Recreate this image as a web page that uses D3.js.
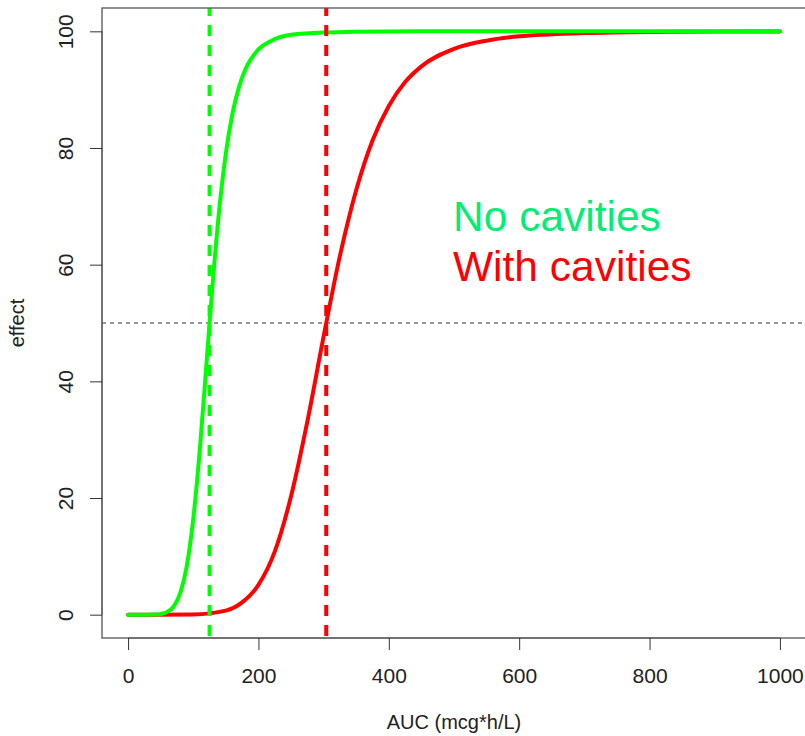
<!DOCTYPE html>
<html>
<head>
<meta charset="utf-8">
<script src="https://cdn.jsdelivr.net/npm/d3@7"></script>
<style>
  html, body { margin: 0; padding: 0; background: #fff; }
  svg { display: block; font-family: "Liberation Sans", Arial, sans-serif; }
</style>
</head>
<body>
<svg id="chart" width="805" height="736"></svg>
<script>
// Effect (%) versus exposure, AUC in mcg*h/L
const aucNoCav    = [0, 20, 40, 50, 60, 70, 80, 90, 100, 110, 120, 130, 140, 150, 160, 170, 180, 200, 220, 250, 300, 400, 500, 700, 1000];
const effectNoCav = [0, 0, 0.02, 0.12, 0.47, 1.4, 3.7, 8.3, 16.4, 28.2, 42.6, 57.1, 69.6, 79.1, 85.8, 90.4, 93.5, 96.9, 98.4, 99.4, 99.8, 99.98, 100, 100, 100];

const aucWithCav    = [0, 50, 100, 150, 175, 200, 225, 250, 275, 300, 325, 350, 375, 400, 425, 450, 500, 550, 600, 700, 800, 900, 1000];
const effectWithCav = [0, 0, 0.04, 0.7, 2.1, 5.1, 10.8, 20.3, 33.1, 47.7, 61.5, 72.8, 81.3, 87.2, 91.3, 94.0, 97.0, 98.4, 99.15, 99.7, 99.9, 99.95, 99.98];

// AUC giving half of the maximal effect
const ec50 = { noCav: 125, withCav: 304 };
const halfEffect = 50;

const xTicks = [0, 200, 400, 600, 800, 1000];
const yTicks = [0, 20, 40, 60, 80, 100];
const xTitle = "AUC (mcg*h/L)";
const yTitle = "effect";
const labels = ["No cavities", "With cavities"];

const GREEN = "#00ff00", RED = "#ff0000", LABEL_GREEN = "#00ee76";

const svg = d3.select("#chart");
const plotL = 102, plotR = 806, plotT = 8, plotB = 638;

const x = d3.scaleLinear().domain([-40, 1040]).range([plotL, plotR]);
const y = d3.scaleLinear().domain([-4, 104]).range([plotB, plotT]);

// reference line at half effect
svg.append("line")
  .attr("x1", plotL).attr("x2", plotR)
  .attr("y1", y(halfEffect)).attr("y2", y(halfEffect))
  .attr("stroke", "#333").attr("stroke-width", 1)
  .attr("stroke-dasharray", "4,4");

const line = d3.line()
  .x(d => x(d[0])).y(d => y(d[1]))
  .curve(d3.curveMonotoneX);

function curve(aucs, effects, color) {
  svg.append("path")
    .datum(aucs.map((a, i) => [a, effects[i]]))
    .attr("d", line)
    .attr("fill", "none")
    .attr("stroke", color)
    .attr("stroke-width", 4)
    .attr("stroke-linecap", "round")
    .attr("stroke-linejoin", "round");
}
curve(aucWithCav, effectWithCav, RED);
curve(aucNoCav, effectNoCav, GREEN);

function vline(v, color) {
  svg.append("line")
    .attr("x1", x(v)).attr("x2", x(v))
    .attr("y1", plotT).attr("y2", plotB)
    .attr("stroke", color).attr("stroke-width", 4)
    .attr("stroke-dasharray", "11,9")
    .attr("stroke-dashoffset", 3);
}
vline(ec50.noCav, GREEN);
vline(ec50.withCav, RED);

// plot frame
svg.append("rect")
  .attr("x", plotL).attr("y", plotT)
  .attr("width", plotR - plotL).attr("height", plotB - plotT)
  .attr("fill", "none").attr("stroke", "#555").attr("stroke-width", 1.3);

// x axis
const gx = svg.append("g")
  .attr("transform", `translate(0,${plotB})`)
  .call(d3.axisBottom(x).tickValues(xTicks).tickSize(12).tickPadding(18).tickFormat(d3.format("d")));
gx.select(".domain").attr("d", `M${x(0)},0H${x(1000)}`).attr("stroke", "#555");
gx.selectAll(".tick line").attr("stroke", "#333");
gx.selectAll("text").attr("font-size", 21).attr("fill", "#222")
  .attr("font-family", "Liberation Sans, Arial, sans-serif");

// y axis with labels set parallel to the axis
const gy = svg.append("g")
  .attr("transform", `translate(${plotL},0)`)
  .call(d3.axisLeft(y).tickValues(yTicks).tickSize(12).tickFormat(d3.format("d")));
gy.select(".domain").attr("d", `M0,${y(0)}V${y(100)}`).attr("stroke", "#555");
gy.selectAll(".tick line").attr("stroke", "#333");
gy.selectAll("text")
  .attr("x", null).attr("dy", null)
  .attr("transform", "translate(-29,0) rotate(-90)")
  .attr("text-anchor", "middle")
  .attr("font-size", 21).attr("fill", "#222")
  .attr("font-family", "Liberation Sans, Arial, sans-serif");

// axis titles
svg.append("text")
  .attr("x", (plotL + plotR) / 2).attr("y", 729)
  .attr("text-anchor", "middle").attr("font-size", 20).attr("fill", "#222")
  .text(xTitle);
svg.append("text")
  .attr("transform", `translate(24,${(plotT + plotB) / 2}) rotate(-90)`)
  .attr("text-anchor", "middle").attr("font-size", 20).attr("fill", "#222")
  .text(yTitle);

// group labels
svg.append("text")
  .attr("x", 453).attr("y", 231)
  .attr("font-size", 42.5).attr("fill", LABEL_GREEN)
  .text(labels[0]);
svg.append("text")
  .attr("x", 453).attr("y", 281)
  .attr("font-size", 42.5).attr("fill", RED)
  .text(labels[1]);
</script>
</body>
</html>
